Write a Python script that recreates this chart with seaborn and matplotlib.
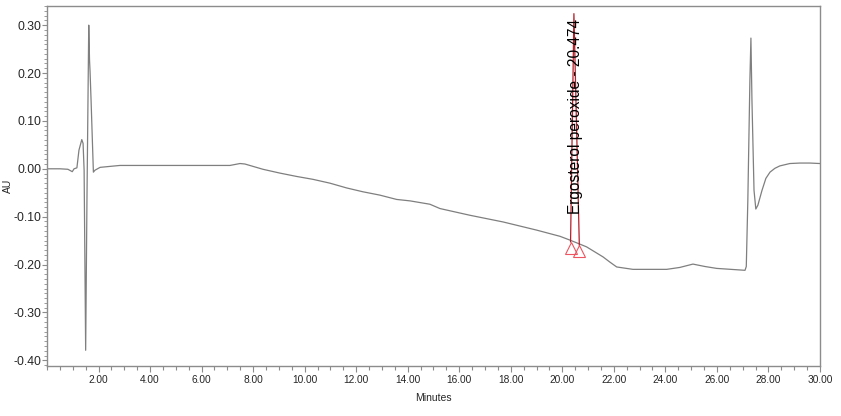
"""
Import packages
"""

import numpy as np
import pandas as pd
import matplotlib
matplotlib.use('Agg')
import matplotlib.pyplot as plt
from matplotlib.ticker import MultipleLocator, FormatStrFormatter
import seaborn as sns

"""
Data (read off the chromatogram)
"""
minutes = [0.00, 0.50, 0.81, 0.98, 1.05, 1.16, 1.24, 1.35, 1.40, 1.44,
           1.50, 1.55, 1.62, 1.65, 1.67, 1.71, 1.80, 1.86, 2.06, 2.44,
           2.83, 4.00, 5.94, 7.10, 7.49, 7.68, 8.38, 9.04, 9.69, 10.32,
           10.98, 11.63, 12.26, 12.92, 13.57, 14.09, 14.86, 15.25, 16.41, 17.70,
           19.00, 19.91, 20.30, 20.94, 21.58, 21.85, 22.11, 22.74, 24.05, 24.56,
           25.07, 25.53, 25.99, 27.09, 27.14, 27.20, 27.28, 27.32, 27.36, 27.44,
           27.51, 27.59, 27.75, 27.90, 28.06, 28.25, 28.44, 28.83, 29.22, 29.61,
           30.00]
au = [0.000, 0.000, -0.001, -0.006, 0.000, 0.002, 0.039, 0.061, 0.053, -0.003,
      -0.379, -0.066, 0.300, 0.227, 0.204, 0.143, -0.007, -0.003, 0.003, 0.005,
      0.007, 0.007, 0.007, 0.007, 0.011, 0.010, -0.001, -0.009, -0.016, -0.022,
      -0.030, -0.040, -0.048, -0.055, -0.064, -0.067, -0.074, -0.083, -0.097, -0.111,
      -0.128, -0.141, -0.149, -0.163, -0.184, -0.195, -0.205, -0.210, -0.210, -0.206,
      -0.199, -0.204, -0.208, -0.212, -0.204, -0.066, 0.185, 0.273, 0.143, -0.045,
      -0.084, -0.076, -0.045, -0.020, -0.007, 0.001, 0.006, 0.011, 0.012, 0.012,
      0.011]

peak_minutes = [20.32, 20.45, 20.66]
peak_au = [-0.153, 0.324, -0.160]
marker_minutes = [20.32, 20.66]
marker_au = [-0.165, -0.172]
peak_name = 'Ergosterol peroxide'
peak_rt = 20.474
label_base = -0.095

trace_color = '#7f7f7f'
peak_color = '#b3202a'
marker_color = '#ee5560'
axis_color = '#8c8c8c'

"""
Visualization
"""


def plot_chromatogram(save_path='out.png'):
    sns.set_style('ticks')
    plt.rcParams['font.family'] = ['Liberation Sans', 'DejaVu Sans']

    fig = plt.figure(figsize=(8.41, 4.16), dpi=100)
    ax = fig.add_axes([0.0559, 0.120, 0.9191, 0.8656])

    trace = pd.DataFrame({'Minutes': minutes, 'AU': au})
    sns.lineplot(data=trace, x='Minutes', y='AU', ax=ax, color=trace_color,
                 linewidth=0.9, estimator=None, sort=False)

    peak = pd.DataFrame({'Minutes': peak_minutes, 'AU': peak_au})
    sns.lineplot(data=peak, x='Minutes', y='AU', ax=ax, color=peak_color,
                 linewidth=0.9, estimator=None, sort=False)

    ax.plot(marker_minutes, marker_au, linestyle='none', marker='^',
            markersize=8.5, markerfacecolor='none', markeredgecolor=marker_color,
            markeredgewidth=0.8)

    ax.text(peak_minutes[1] + 0.05, label_base, f'{peak_name} - {peak_rt:.3f}',
            rotation=90, ha='center', va='bottom', fontsize=11.2, color='black')

    ax.set_xlim(0, 30)
    ax.set_ylim(-0.412, 0.34)

    ax.set_xticks(np.arange(2, 31, 2))
    ax.xaxis.set_minor_locator(MultipleLocator(0.5))
    ax.xaxis.set_major_formatter(FormatStrFormatter('%.2f'))
    ax.yaxis.set_major_locator(MultipleLocator(0.1))
    ax.yaxis.set_minor_locator(MultipleLocator(0.01))
    ax.yaxis.set_major_formatter(FormatStrFormatter('%.2f'))

    ax.tick_params(axis='x', which='major', length=4, width=0.8, color=axis_color,
                   labelsize=7.3, pad=2.5)
    ax.tick_params(axis='x', which='minor', length=3, width=0.8, color=axis_color)
    ax.tick_params(axis='y', which='major', length=3.5, width=0.8, color=axis_color,
                   labelsize=8.8, pad=0.5)
    ax.tick_params(axis='y', which='minor', length=2, width=0.6, color=axis_color)

    for side in ['top', 'right', 'bottom', 'left']:
        ax.spines[side].set_visible(True)
        ax.spines[side].set_color(axis_color)
        ax.spines[side].set_linewidth(1.0)

    ax.set_xlabel('Minutes', fontsize=7.5, labelpad=6)
    ax.set_ylabel('AU', fontsize=7.5)
    ax.yaxis.set_label_coords(-0.044, 0.5)

    fig.savefig(save_path, dpi=100)
    plt.close(fig)


"""
Main
"""


def main():
    plot_chromatogram('out.png')


if __name__ == '__main__':
    main()
